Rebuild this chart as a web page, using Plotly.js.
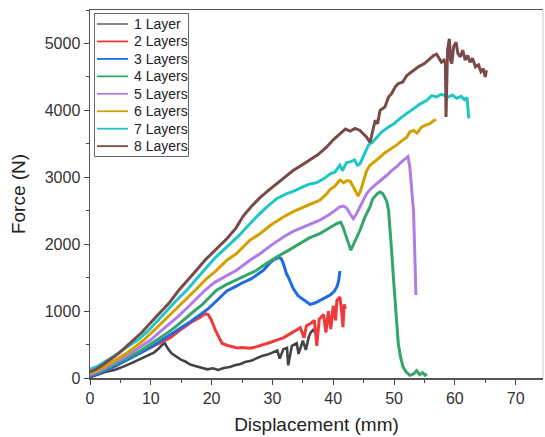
<!DOCTYPE html>
<html>
<head>
<meta charset="utf-8">
<script src="https://cdn.plot.ly/plotly-3.0.1.min.js"></script>
<style>html,body{margin:0;padding:0;background:#fff;}#chart{width:545px;height:437px;}</style>
</head>
<body>
<div id="chart"></div>
<script>
// Series names
const seriesNames = ["1 Layer","2 Layers","3 Layers","4 Layers","5 Layers","6 Layers","7 Layers","8 Layers"];
const seriesColors = ["#444444","#f03a3a","#1f6be0","#35a56c","#b07de6","#d2a000","#1fc6c6","#7a4a4a"];

// 1 Layer
const x1 = [0,1,2.5,4,4.65,5.5,7,8.5,9,9.5,10.5,11.3,11.8,12.3,12.8,13.4,14.2,15,15.6,16.5,17.3,18.4,19.3,20.2,21.1,22,23,23.8,24.8,25.5,26.6,27.5,28.3,29.2,30,30.8,31.2,31.8,32.4,32.6,33.2,34,34.3,35,35.5,36,36.3,36.7,37];
const y1 = [10,40,90,120,140,170,230,290,314,330,380,440,489,520,440,370,320,270,250,200,180,150,130,145,120,150,165,190,210,240,260,300,330,350,380,410,290,430,450,190,480,520,360,560,420,620,680,720,690];

// 2 Layers
const x2 = [0,2,4,5.5,7,8.5,10.1,11.5,13.2,15,16.7,18,18.9,19.4,19.9,20.6,21.2,21.7,22.5,23.3,24.2,25,26.3,27.3,28.3,29.6,30.7,31.8,32.9,34,34.6,35.2,35.6,36.2,36.9,37.3,37.7,38.4,38.8,39.2,39.6,40,40.4,40.6,41.1,41.4,41.6,41.8,42];
const y2 = [30,90,180,260,330,390,460,520,600,730,837,900,960,950,880,720,600,520,490,470,450,455,445,465,490,530,565,600,660,720,750,600,780,810,860,480,880,950,680,1000,730,1080,860,1160,1210,980,760,1100,1030];

// 3 Layers
const x3 = [0,2,4,6,8,10,11.8,13.5,15,16.5,18,19.5,21,22.5,24,25,26.5,27.5,28.5,29.6,30.3,31,31.4,31.8,32.3,32.6,33.4,34.2,35.1,36.2,37,37.8,38.7,39.5,40.2,40.6,40.9,41.1];
const y3 = [30,90,170,260,360,460,564,660,750,840,940,1040,1170,1300,1370,1420,1480,1550,1610,1720,1770,1800,1790,1710,1561,1510,1340,1230,1170,1100,1120,1160,1200,1240,1300,1360,1450,1600];

// 4 Layers
const x4 = [0,2,4,6,8,9.5,11,12.5,14,15.5,17,18.5,20,20.8,22.5,24.5,26.3,27.4,29,30.7,32.5,34.5,36,37.8,39.2,40.6,41.2,41.6,42,42.5,42.9,43.3,43.9,44.4,45.2,46.05,46.5,47.2,47.7,48.1,48.5,48.8,49.1,49.4,49.6,49.9,50.2,50.5,50.7,51.1,51.5,52,52.6,53.2,53.7,54.2,54.7,55.1,55.4];
const y4 = [40,110,200,290,390,480,564,660,760,880,990,1100,1240,1311,1400,1490,1561,1610,1710,1809,1900,2009,2090,2159,2240,2308,2330,2260,2150,2000,1910,1990,2108,2208,2400,2557,2680,2750,2780,2760,2700,2640,2507,2200,1909,1500,1161,800,514,300,164,90,40,60,110,50,80,40,60];

// 5 Layers
const x5 = [0,2,4,6,8,9.9,11.5,13,14.5,16,17.5,18.9,20.5,22.2,24.1,26.3,28,29.9,31.8,33.4,35.1,36.5,37.8,39.5,40.3,41.1,41.7,42.2,42.8,43.3,43.8,44.4,45,45.5,46.3,47.2,48,48.8,49.6,50.4,51.1,51.8,52.3,52.6,52.9,53.2,53.4,53.6];
const y5 = [50,130,230,330,450,564,690,800,920,1050,1180,1311,1430,1520,1610,1760,1860,1990,2108,2190,2257,2310,2358,2450,2510,2557,2570,2540,2450,2380,2450,2560,2680,2757,2840,2906,2970,3030,3100,3154,3220,3280,3310,3150,2800,2500,1900,1240];

// 6 Layers
const x6 = [0,2,4,6,7.5,8.8,10.5,12,13.5,15.3,17.3,19,20.8,22.5,24.1,26.3,28,29.8,31.8,33.5,35.1,36.5,37.8,39,39.5,40.2,41.1,41.7,42.3,42.8,43.3,43.8,44.1,44.5,45,45.5,46.05,46.8,47.7,48.4,49.1,49.8,50.4,51.2,52.1,52.6,53.2,53.8,54.5,55.2,55.9,56.4,56.9];
const y6 = [70,150,260,370,470,564,710,840,970,1140,1311,1470,1610,1760,1860,2059,2159,2290,2407,2490,2556,2610,2657,2760,2820,2860,2960,2920,2950,2940,2860,2780,2720,2800,2950,3100,3180,3230,3300,3360,3400,3440,3480,3540,3600,3680,3700,3660,3750,3780,3800,3840,3860];

// 7 Layers
const x7 = [0,1,2,3,4,5,6,7,7.9,9.5,11,12.5,14,15.9,17.5,18.6,20.5,22.5,24.4,25.8,27.5,29.1,30.7,32.4,33.7,35.1,36.2,37.3,38.5,39.5,40.3,41.1,41.5,42.2,42.8,43.5,44,44.4,44.8,45.3,45.8,46.5,47.2,48,49.1,50,51,52,53.2,54.2,55.4,56.2,57,57.7,58.4,59,59.6,60.3,61,61.6,62,62.15,62.3];
const y7 = [130,165,215,270,330,395,460,520,570,700,840,990,1140,1310,1480,1600,1790,1960,2120,2257,2420,2556,2680,2757,2800,2860,2900,2920,2980,3050,3080,3180,3100,3220,3230,3260,3180,3200,3280,3400,3480,3530,3600,3680,3750,3800,3880,3950,4030,4090,4150,4220,4200,4240,4220,4200,4230,4180,4210,4160,4190,4050,3880];

// 8 Layers
const x8 = [0,1,2,3,4,5,6,7.1,8.5,10,11.5,13,14.5,16,17.5,19,20.5,22.5,24,25.2,26.5,28,29.3,30.7,32,33.4,34.8,36.2,37.5,38.9,40,41.1,42,42.8,43.6,44.4,45,45.5,46.05,46.5,46.9,47.3,47.7,48.5,49.1,49.6,50.2,50.7,51.4,52.1,53,54,55,55.9,56.5,57,57.4,57.8,58.2,58.45,58.55,58.65,58.8,59.1,59.3,59.5,59.8,60.2,60.5,60.9,61.3,61.7,62.1,62.5,62.9,63.4,63.9,64.3,64.7,65,65.2];
const y8 = [90,130,190,250,320,390,470,555,680,830,970,1120,1300,1450,1610,1770,1900,2080,2240,2420,2560,2700,2800,2900,3000,3100,3180,3260,3340,3450,3560,3650,3720,3690,3730,3700,3650,3600,3520,3700,3850,3800,4000,4050,4200,4250,4350,4400,4420,4520,4580,4650,4700,4770,4820,4840,4780,4720,4750,4700,3900,4650,4900,5070,4750,4700,4950,5020,4850,4800,4900,4750,4820,4720,4780,4650,4680,4580,4620,4500,4600];

const xs = [x1,x2,x3,x4,x5,x6,x7,x8];
const ys = [y1,y2,y3,y4,y5,y6,y7,y8];

const xTickVals = [0,10,20,30,40,50,60,70];
const yTickVals = [0,1000,2000,3000,4000,5000];

const traces = seriesNames.map((name, i) => ({
  type: 'scatter',
  mode: 'lines',
  name: name,
  x: xs[i],
  y: ys[i],
  line: {color: seriesColors[i], width: i === 0 ? 2.6 : 3}
}));

const fontFam = '"Liberation Sans", Arial, sans-serif';

// Plot area geometry (pixels) used to place the hand-drawn legend box
const W = 545, H = 437, ML = 90, MR = 2, MT = 10, MB = 59;
const PW = W - ML - MR, PH = H - MT - MB;
const px = v => (v - ML) / PW;
const py = v => (H - MB - v) / PH;

const shapes = [
  {type: 'line', xref: 'paper', yref: 'paper', x0: 1, x1: 1, y0: 0, y1: 1,
   line: {color: '#cccccc', width: 1}},
  {type: 'rect', xref: 'paper', yref: 'paper', x0: px(94.5), x1: px(188.5), y0: py(156.5), y1: py(13.5),
   line: {color: '#666666', width: 1}, fillcolor: '#ffffff', layer: 'above'}
];
const annotations = [];
seriesNames.forEach((name, i) => {
  const cy = 24 + i * 17.45;
  shapes.push({type: 'line', xref: 'paper', yref: 'paper', x0: px(97), x1: px(128), y0: py(cy), y1: py(cy),
    line: {color: seriesColors[i], width: i === 0 ? 1.3 : 1.8}, layer: 'above'});
  annotations.push({xref: 'paper', yref: 'paper', x: px(132), y: py(cy), xanchor: 'left', yanchor: 'middle',
    text: name, showarrow: false, font: {family: fontFam, size: 14, color: '#222222'}});
});

const layout = {
  width: W,
  height: H,
  margin: {l: ML, r: MR, t: MT, b: MB},
  paper_bgcolor: '#ffffff',
  plot_bgcolor: '#ffffff',
  font: {family: fontFam, color: '#333333', size: 16},
  showlegend: false,
  xaxis: {
    range: [0, 74.5],
    tickvals: xTickVals,
    ticktext: xTickVals.map(String),
    ticks: 'outside', ticklen: 5, tickwidth: 1, tickcolor: '#444444',
    minor: {dtick: 5, tick0: 0, ticks: 'outside', ticklen: 3, tickcolor: '#444444'},
    showline: true, linecolor: '#555555', linewidth: 1.5, mirror: true,
    showgrid: false, zeroline: false,
    tickfont: {family: fontFam, size: 16, color: '#333333'},
    title: {text: 'Displacement (mm)', font: {family: fontFam, size: 19, color: '#222222'}, standoff: 12}
  },
  yaxis: {
    range: [0, 5500],
    tickvals: yTickVals,
    ticktext: yTickVals.map(String),
    ticks: 'outside', ticklen: 5, tickwidth: 1, tickcolor: '#444444',
    minor: {dtick: 500, tick0: 0, ticks: 'outside', ticklen: 3, tickcolor: '#444444'},
    showline: true, linecolor: '#555555', linewidth: 1.5, mirror: false,
    showgrid: false, zeroline: false,
    tickfont: {family: fontFam, size: 16, color: '#333333'},
    title: {text: 'Force (N)', font: {family: fontFam, size: 19, color: '#222222'}, standoff: 14}
  },
  shapes: shapes,
  annotations: annotations
};

Plotly.newPlot('chart', traces, layout, {displayModeBar: false, staticPlot: true});
</script>
</body>
</html>
